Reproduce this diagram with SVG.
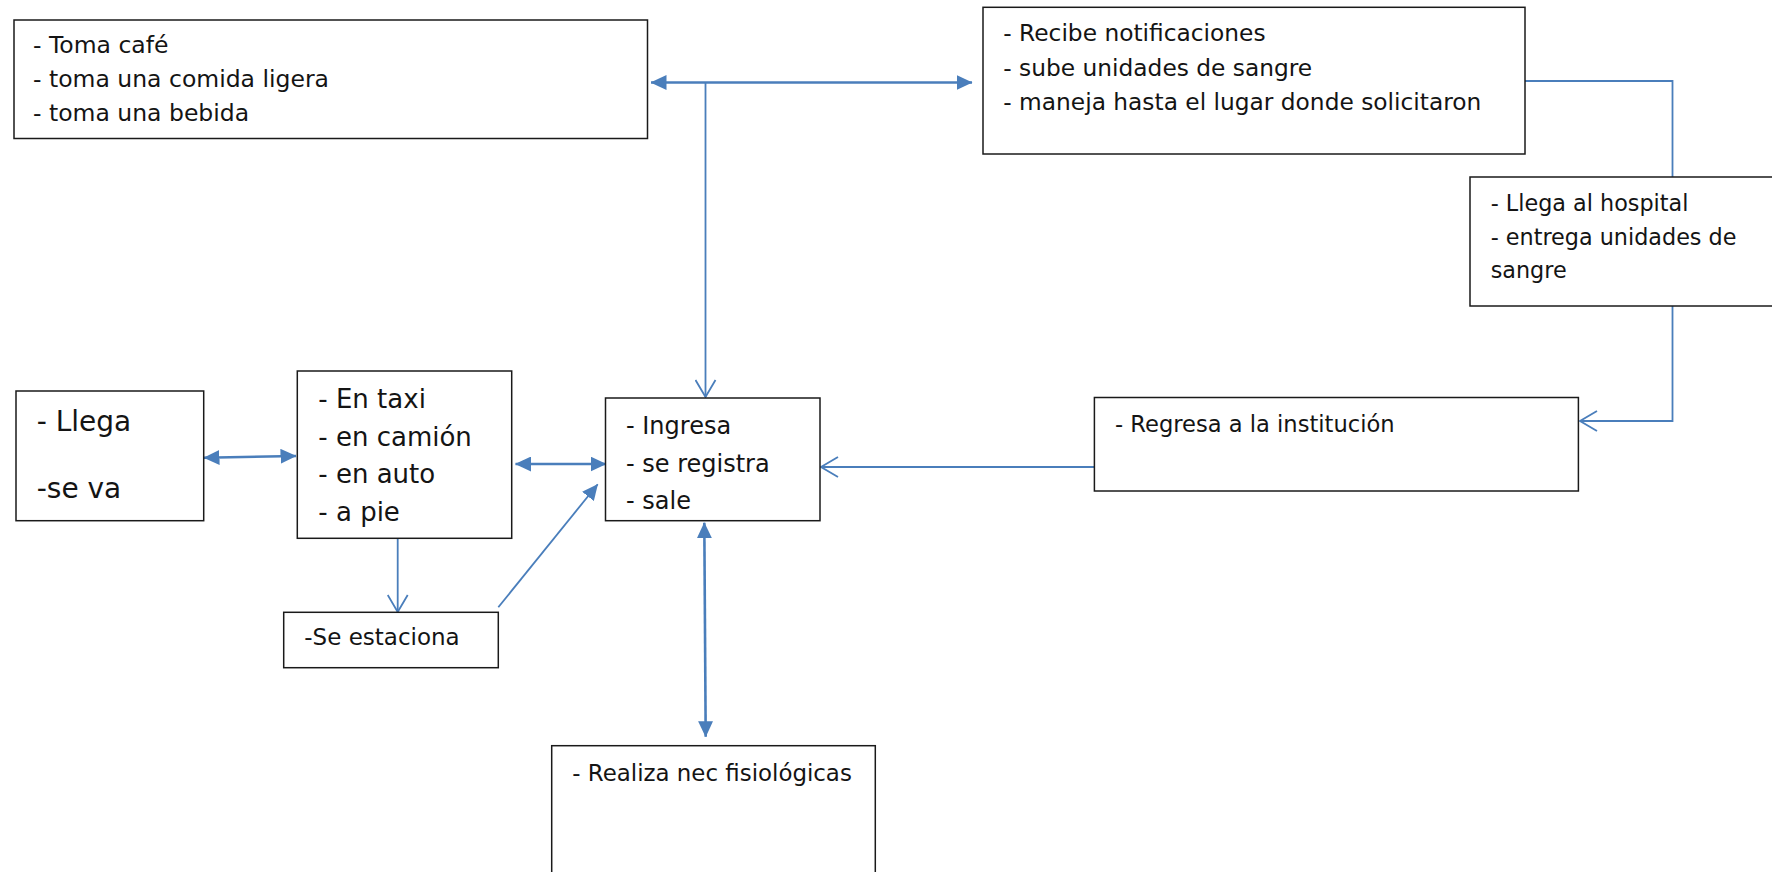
<svg xmlns="http://www.w3.org/2000/svg" width="1772" height="872" viewBox="0 0 1772 872">
  <style>
    .box { fill: #ffffff; stroke: #1a1a1a; stroke-width: 1.5; }
    .t { font-family: "DejaVu Sans", "Liberation Sans", sans-serif; fill: #141414; }
    .link { fill: none; stroke: #4a7ebb; stroke-width: 1.8; }
    .thick { stroke-width: 2.6; }
  </style>
  <defs>
    <marker id="tri" viewBox="0 0 16 15" refX="15.5" refY="7.5" markerWidth="16" markerHeight="15" orient="auto-start-reverse" markerUnits="userSpaceOnUse">
      <path d="M0,0 L16,7.5 L0,15 z" fill="#4a7ebb"/>
    </marker>
    <marker id="vee" viewBox="0 0 20 22" refX="18" refY="11" markerWidth="20" markerHeight="22" orient="auto" markerUnits="userSpaceOnUse">
      <path d="M1,1 L18,11 L1,21" fill="none" stroke="#4a7ebb" stroke-width="1.8"/>
    </marker>
  </defs>

  <rect width="1772" height="872" fill="#ffffff"/>

  <g id="connectors">
    <line class="link thick" x1="651" y1="82.5" x2="972" y2="82.5" marker-start="url(#tri)" marker-end="url(#tri)"/>
    <line class="link" x1="705.5" y1="82.5" x2="705.5" y2="397" marker-end="url(#vee)"/>
    <polyline class="link" points="1525,81 1672.5,81 1672.5,177"/>
    <polyline class="link" points="1672.5,306 1672.5,421 1580,421" marker-end="url(#vee)"/>
    <line class="link" x1="1094" y1="467" x2="821" y2="467" marker-end="url(#vee)"/>
    <line class="link thick" x1="204" y1="457.7" x2="296" y2="456" marker-start="url(#tri)" marker-end="url(#tri)"/>
    <line class="link thick" x1="515.5" y1="464" x2="606" y2="464" marker-start="url(#tri)" marker-end="url(#tri)"/>
    <line class="link" x1="397.7" y1="538" x2="397.7" y2="612" marker-end="url(#vee)"/>
    <line class="link" x1="498.3" y1="607.3" x2="597.7" y2="484.3" marker-end="url(#tri)"/>
    <line class="link thick" x1="704.3" y1="522.7" x2="705.7" y2="736.7" marker-start="url(#tri)" marker-end="url(#tri)"/>
  </g>

  <g id="descanso">
    <rect class="box" x="14" y="20" width="633.5" height="118.5"/>
    <text class="t" font-size="23.5" x="33" y="53.3">- Toma café</text>
    <text class="t" font-size="23.5" x="33" y="87.3">- toma una comida ligera</text>
    <text class="t" font-size="23.5" x="33" y="120.7">- toma una bebida</text>
  </g>

  <g id="notificaciones">
    <rect class="box" x="983" y="7.3" width="542" height="146.7"/>
    <text class="t" font-size="23.3" x="1003.3" y="41">- Recibe notificaciones</text>
    <text class="t" font-size="23.3" x="1003.3" y="75.7">- sube unidades de sangre</text>
    <text class="t" font-size="23.3" x="1003.3" y="110">- maneja hasta el lugar donde solicitaron</text>
  </g>

  <g id="hospital">
    <rect class="box" x="1470" y="177" width="320" height="129"/>
    <text class="t" font-size="22.3" x="1490.7" y="211">- Llega al hospital</text>
    <text class="t" font-size="22.3" x="1490.7" y="245">- entrega unidades de</text>
    <text class="t" font-size="22.3" x="1490.7" y="278.3">sangre</text>
  </g>

  <g id="regresa">
    <rect class="box" x="1094.4" y="397.5" width="484" height="93.5"/>
    <text class="t" font-size="22.6" x="1115" y="432.3">- Regresa a la institución</text>
  </g>

  <g id="ingresa">
    <rect class="box" x="605.5" y="398" width="214.5" height="122.7"/>
    <text class="t" font-size="24" x="626" y="434.3">- Ingresa</text>
    <text class="t" font-size="24" x="626" y="471.7">- se registra</text>
    <text class="t" font-size="24" x="626" y="509.3">- sale</text>
  </g>

  <g id="llega">
    <rect class="box" x="16" y="391" width="187.7" height="129.7"/>
    <text class="t" font-size="28" x="36.7" y="430.7">- Llega</text>
    <text class="t" font-size="28" x="36.7" y="498">-se va</text>
  </g>

  <g id="transporte">
    <rect class="box" x="297.3" y="371" width="214.4" height="167.3"/>
    <text class="t" font-size="26" x="318.3" y="408.3">- En taxi</text>
    <text class="t" font-size="26" x="318.3" y="446">- en camión</text>
    <text class="t" font-size="26" x="318.3" y="483.3">- en auto</text>
    <text class="t" font-size="26" x="318.3" y="521">- a pie</text>
  </g>

  <g id="estaciona">
    <rect class="box" x="283.7" y="612.3" width="214.6" height="55.4"/>
    <text class="t" font-size="23" x="304.3" y="645">-Se estaciona</text>
  </g>

  <g id="fisiologicas">
    <rect class="box" x="551.7" y="745.7" width="323.6" height="140"/>
    <text class="t" font-size="22.9" x="572.3" y="780.7">- Realiza nec fisiológicas</text>
  </g>
</svg>
